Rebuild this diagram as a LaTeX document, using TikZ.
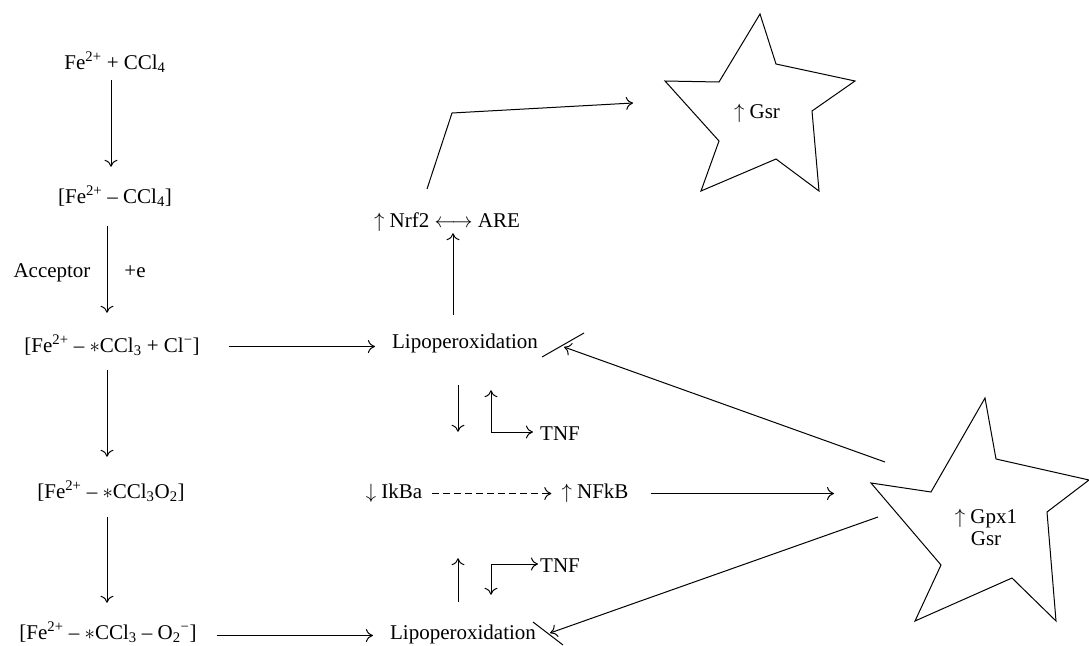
\documentclass[tikz,border=0pt]{standalone}
\usepackage{fontspec}
\setmainfont{Liberation Serif}
\usetikzlibrary{arrows.meta}
\newcommand\fs{\fontsize{21}{25}\selectfont}
\newcommand\sps[1]{\textsuperscript{#1}}
\newcommand\sbs[1]{\textsubscript{#1}}
\begin{document}
\begin{tikzpicture}[x=1pt,y=-1pt,
  lab/.style={inner sep=0pt, font=\fs, text height=14pt, text depth=5pt, anchor=base},
  arr/.style={-{Computer Modern Rightarrow[length=7pt,width=13pt]}, line width=1pt},
  ln/.style={line width=1pt, line join=miter},
  dsh/.style={dash pattern=on 7pt off 4pt}]
\useasboundingbox (0,0) rectangle (1089,645);
\fill[white] (0,0) rectangle (1089,645);

% left column
\node[lab] (n1) at (115,69) {Fe\sps{2+} + CCl\sbs{4}};
\node[lab] (n2) at (115,203) {[Fe\sps{2+} -- CCl\sbs{4}]};
\node[lab] (acc) at (52,277) {Acceptor};
\node[lab] (e) at (135,277) {+e};
\node[lab] (n3) at (112,352) {[Fe\sps{2+} -- $\ast$CCl\sbs{3} + Cl\sps{−}]};
\node[lab] (n4) at (111,498) {[Fe\sps{2+} -- $\ast$CCl\sbs{3}O\sbs{2}]};
\node[lab] (n5) at (108,639) {[Fe\sps{2+} -- $\ast$CCl\sbs{3} -- O\sbs{2}\sps{−}]};

% middle column
\node[lab] (lp1) at (465,348) {Lipoperoxidation};
\node[lab] (lp2) at (463,639) {Lipoperoxidation};
\node[lab] (nrf) at (447,227) {$\uparrow$ Nrf2 $\longleftrightarrow$ ARE};
\node[lab] (tnf1) at (560,440) {TNF};
\node[lab] (ikb) at (394,498) {$\downarrow$ IkBa};
\node[lab] (nfkb) at (595,498) {$\uparrow$ NFkB};
\node[lab] (tnf2) at (560,572) {TNF};

% stars
\draw[ln] (760,14) -- (776,64) -- (855,81) -- (812,111) -- (819,191) -- (776,159)
  -- (701,191) -- (719,141) -- (665,81) -- (719,82) -- cycle;
\node[lab] (gsr) at (757,118) {$\uparrow$ Gsr};
\draw[ln] (985,398) -- (996,459) -- (1089,480) -- (1047,512) -- (1056,621) -- (1012,578)
  -- (915,621) -- (941,565) -- (871,483) -- (931,492) -- cycle;
\node[lab] (gpx) at (986,523) {$\uparrow$ Gpx1};
\node[lab] (gsr2) at (986,545) {Gsr};

% coordinates
\coordinate (xa) at (111,0);
\coordinate (xb) at (107,0);
\coordinate (xd) at (458,0);
\coordinate (xu) at (453,0);
\coordinate (e1) at (491,432);
\coordinate (e2) at (491,564);
\coordinate (nrfs) at (427,189);
\coordinate (bend) at (452,113);
\coordinate (g1in) at (633,103);
\coordinate (g2in) at (834,0);
\coordinate (g2a) at (885,462);
\coordinate (g2b) at (878,517);
\coordinate (tip1) at (564,347);
\coordinate (tip2) at (550,633);
\coordinate (b1a) at (542,357);
\coordinate (b1b) at (584,333);
\coordinate (b2a) at (533,622);
\coordinate (b2b) at (563,645);

% left arrows
\draw[arr, shorten <=6pt, shorten >=22pt] (n1.south -| xa) -- (n2.north -| xa);
\draw[arr, shorten <=18pt, shorten >=25pt] (n2.south -| xb) -- (n3.north -| xb);
\draw[arr, shorten <=13pt, shorten >=27pt] (n3.south -| xb) -- (n4.north -| xb);
\draw[arr, shorten <=14pt, shorten >=22pt] (n4.south -| xb) -- (n5.north -| xb);

% horizontal arrows to lipoperoxidation
\draw[arr, shorten <=29pt, shorten >=17pt] ([yshift=1pt]n3.east) -- ([yshift=1pt]n3.east -| lp1.west);
\draw[arr, shorten <=20pt, shorten >=17pt] ([yshift=-1pt]n5.east) -- ([yshift=-1pt]n5.east -| lp2.west);

% Nrf2
\draw[arr, shorten <=19pt, shorten >=1pt] (lp1.north -| xu) -- (nrf.south -| xu);
\draw[arr, line join=miter] (nrfs) -- (bend) -- (g1in);

% upper TNF / IkBa
\draw[arr, shorten <=32pt, shorten >=52pt] (lp1.south -| xd) -- (ikb.north -| xd);
\draw[arr, shorten >=37pt] (e1) -- (e1 |- lp1.south);
\draw[arr, shorten >=7pt] (e1) -- (e1 -| tnf1.west);

% lower TNF
\draw[arr, shorten <=23pt, shorten >=55pt] (lp2.north -| xd) -- (ikb.south -| xd);
\draw[arr, shorten >=30pt] (e2) -- (e2 |- lp2.north);
\draw[arr, shorten >=2pt] (e2) -- (e2 -| tnf2.west);

% IkBa -> NFkB
\draw[arr, dsh, shorten <=10pt, shorten >=10pt] (ikb.east) -- (ikb.east -| nfkb.west);
\draw[arr, shorten <=22pt] (nfkb.east) -- (nfkb.east -| g2in);

% inhibition from Gpx1 star
\draw[arr] (g2a) -- (tip1);
\draw[ln] (b1a) -- (b1b);
\draw[arr] (g2b) -- (tip2);
\draw[ln] (b2a) -- (b2b);
\end{tikzpicture}
\end{document}
